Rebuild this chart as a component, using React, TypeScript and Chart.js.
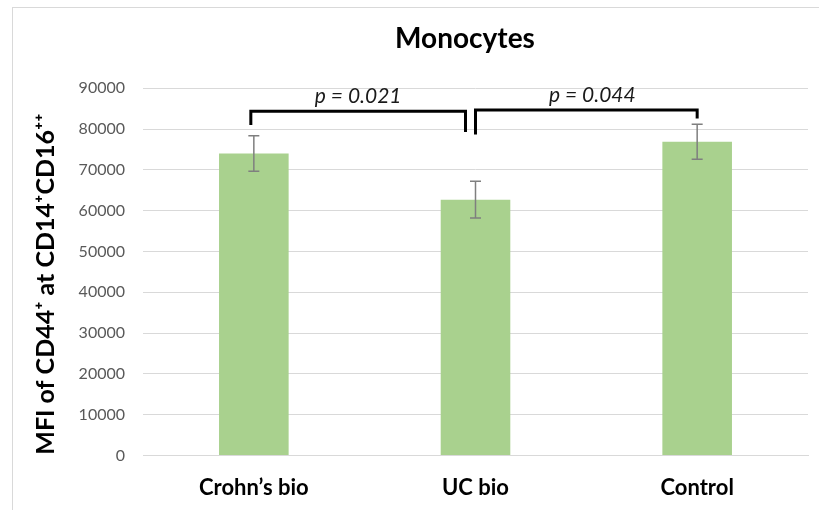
import { useEffect, useRef } from 'react';
import { Chart, registerables } from 'chart.js';

Chart.register(...registerables);

// ---- data ----
const categories = ['Crohn’s bio', 'UC bio', 'Control'];
const meanValues = [74000, 62700, 76900];
const errorValues = [4350, 4500, 4300];
const yTicks = [0, 10000, 20000, 30000, 40000, 50000, 60000, 70000, 80000, 90000];
const chartTitle = 'Monocytes';
const yAxisTitle = 'MFI of CD44⁺ at CD14⁺CD16⁺⁺';

// significance brackets (category indices and values)
const bracketFrom = [0, 1];
const bracketTo = [1, 2];
const bracketTop = [84400, 84700];
const bracketFromEnd = [81000, 78700];
const bracketToEnd = [79300, 82600];
const pLabels = ['p = 0.021', 'p = 0.044'];

// ---- style ----
const FONT = 'Lato, "Open Sans", sans-serif';
const BAR_COLOR = '#a9d18e';
const GRID_COLOR = '#d9d9d9';
const bracketShift = [
  [-3, -10],
  [0, 0],
];
const labelShift = [0, 6];

const overlayPlugin = {
  id: 'overlay',
  afterDatasetsDraw(chart: any) {
    const { ctx } = chart;
    const x = chart.scales.x;
    const y = chart.scales.y;
    ctx.save();
    // error bars
    ctx.strokeStyle = '#7f7f7f';
    ctx.lineWidth = 1.5;
    meanValues.forEach((v, i) => {
      const cx = x.getPixelForValue(i);
      const yTop = y.getPixelForValue(v + errorValues[i]);
      const yBot = y.getPixelForValue(v - errorValues[i]);
      ctx.beginPath();
      ctx.moveTo(cx, yTop);
      ctx.lineTo(cx, yBot);
      ctx.moveTo(cx - 5.5, yTop);
      ctx.lineTo(cx + 5.5, yTop);
      ctx.moveTo(cx - 5.5, yBot);
      ctx.lineTo(cx + 5.5, yBot);
      ctx.stroke();
    });
    // brackets
    ctx.strokeStyle = '#000';
    ctx.lineWidth = 3;
    ctx.lineJoin = 'miter';
    ctx.lineCap = 'butt';
    bracketFrom.forEach((f, i) => {
      const x1 = x.getPixelForValue(f) + bracketShift[i][0];
      const x2 = x.getPixelForValue(bracketTo[i]) + bracketShift[i][1];
      const yT = y.getPixelForValue(bracketTop[i]);
      const y1 = y.getPixelForValue(bracketFromEnd[i]);
      const y2 = y.getPixelForValue(bracketToEnd[i]);
      ctx.beginPath();
      ctx.moveTo(x1, y1);
      ctx.lineTo(x1, yT);
      ctx.lineTo(x2, yT);
      ctx.lineTo(x2, y2);
      ctx.stroke();
      ctx.fillStyle = '#1a1a1a';
      ctx.font = `italic 21px ${FONT}`;
      ctx.textAlign = 'center';
      ctx.textBaseline = 'alphabetic';
      ctx.fillText(pLabels[i], (x1 + x2) / 2 + labelShift[i], yT - 8);
    });
    ctx.restore();
  },
  afterDraw(chart: any) {
    const { ctx } = chart;
    ctx.save();
    ctx.fillStyle = '#000';
    ctx.font = `bold 28px ${FONT}`;
    ctx.textAlign = 'center';
    ctx.textBaseline = 'middle';
    ctx.fillText(chartTitle, 452, 31);
    ctx.restore();
  },
};

function BarChart() {
  const ref = useRef<HTMLCanvasElement | null>(null);
  useEffect(() => {
    if (!ref.current) return;
    const chart = new Chart(ref.current, {
      type: 'bar',
      data: {
        labels: categories,
        datasets: [
          {
            data: meanValues,
            backgroundColor: BAR_COLOR,
            borderWidth: 0,
            categoryPercentage: 1,
            barPercentage: 0.314,
          },
        ],
      },
      options: {
        animation: false,
        responsive: true,
        maintainAspectRatio: false,
        layout: { padding: { top: 80.3, right: 11, left: 0, bottom: 0 } },
        plugins: {
          legend: { display: false },
          tooltip: { enabled: false },
          title: { display: false },
        },
        scales: {
          x: {
            grid: { display: false, drawTicks: false },
            border: { display: true, color: GRID_COLOR, width: 1 },
            ticks: {
              padding: 19,
              color: '#000',
              font: { family: FONT, size: 22, weight: 'bold' },
            },
            afterFit(scale: any) {
              scale.height = 54.5;
            },
          },
          y: {
            min: 0,
            max: 90000,
            afterBuildTicks(scale: any) {
              scale.ticks = yTicks.map((v) => ({ value: v }));
            },
            grid: { color: GRID_COLOR, lineWidth: 1, drawTicks: false },
            border: { display: false },
            ticks: {
              padding: 18,
              color: '#595959',
              font: { family: FONT, size: 16 },
              callback: (v: any) => String(v),
            },
            title: {
              display: true,
              text: yAxisTitle + '    ',
              color: '#000',
              font: { family: FONT, size: 25, weight: 'bold' },
              padding: { top: 18, bottom: 0 },
            },
            afterFit(scale: any) {
              scale.width = 130;
            },
          },
        },
      },
      plugins: [overlayPlugin],
    });
    return () => chart.destroy();
  }, []);
  return <canvas ref={ref} />;
}

export default function App() {
  return (
    <div
      style={{
        position: 'fixed',
        left: 0,
        top: 0,
        width: 819,
        height: 510,
        overflow: 'hidden',
        background: '#fff',
      }}
    >
      <div
        style={{
          position: 'absolute',
          left: 12,
          top: 7,
          width: 900,
          height: 600,
          borderLeft: `1px solid ${GRID_COLOR}`,
          borderTop: `1px solid ${GRID_COLOR}`,
        }}
      />
      <div style={{ position: 'absolute', left: 13, top: 8, width: 806, height: 502 }}>
        <BarChart />
      </div>
    </div>
  );
}
